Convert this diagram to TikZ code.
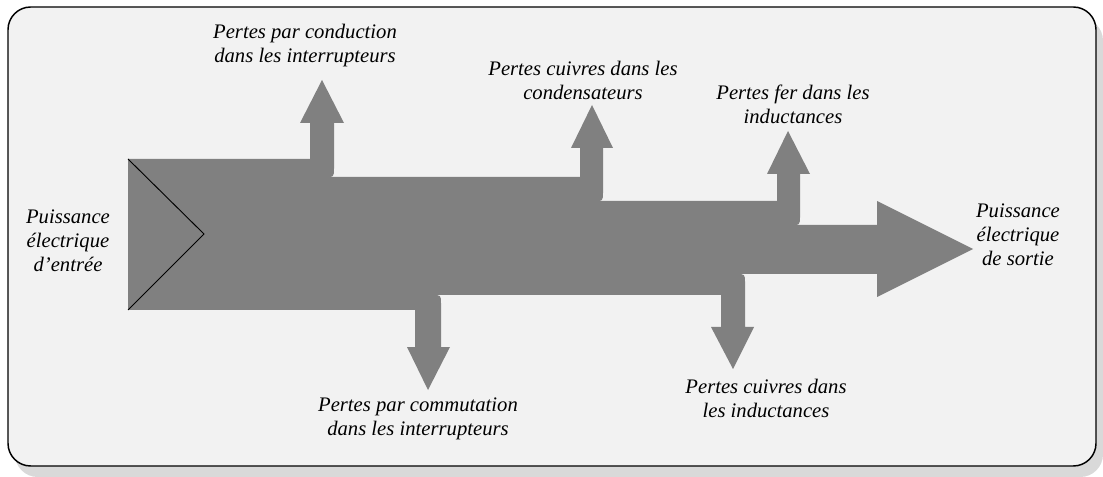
\documentclass[tikz,border=0pt]{standalone}
\usepackage{fontspec}
\setmainfont{Liberation Serif}
\usepackage{xcolor}
\usepackage{tikz}

\definecolor{flowgray}{HTML}{808080}
\definecolor{panelbg}{HTML}{F2F2F2}
\definecolor{shadowgray}{HTML}{D9D9D9}

\begin{document}
\begin{tikzpicture}[
  x=0.75pt, y=-0.75pt,
  lbl/.style={font=\fontsize{15.5}{18}\selectfont\itshape, align=center,
              inner sep=0pt},
  flow/.style={fill=flowgray, draw=none},
  panel/.style={draw=black, line width=1.1pt, fill=panelbg,
                rounded corners=17pt},
  shade/.style={fill=shadowgray, rounded corners=17pt},
  notch/.style={draw=black, line width=0.7pt},
]
\useasboundingbox (0,0) rectangle (1103,477);

% ---- Frame ----
\fill[shade] (15,18) rectangle (1103,477);
\draw[panel] (8,7) rectangle (1096,466);

% ---- Power flow ----
\fill[flow] (128,159) -- (310,159) -- (310,123) -- (300,123) -- (322,80)
  -- (344,123) -- (334,123) -- (334,168) .. controls (334,177) .. (325,177)
  -- (580,177) -- (580,148) -- (571,148) -- (592,105) -- (613,148)
  -- (603,148) -- (603,192) .. controls (603,201) .. (594,201)
  -- (777,201) -- (777,174) -- (767,174) -- (788,131) -- (810,174)
  -- (800,174) -- (800,216) .. controls (800,225) .. (791,225)
  -- (877,225) -- (877,201) -- (973,249) -- (877,297) -- (877,274)
  -- (736,274) .. controls (745,274) .. (745,283)
  -- (745,327) -- (754,327) -- (733,369) -- (711,327) -- (721,327)
  -- (721,295) -- (432,295) .. controls (441,295) .. (441,304)
  -- (441,347) -- (450,347) -- (428,390) -- (407,347) -- (415,347)
  -- (415,310) -- (128,310) -- cycle;

% input notch
\draw[notch] (128,159) -- (204,234) -- (128,310);

% ---- Labels ----
\node[lbl] (pin)   at (68,241)   {Puissance\\électrique\\d’entrée};
\node[lbl] (pout)  at (1018,235) {Puissance\\électrique\\de sortie};
\node[lbl] (cond)  at (305,46)   {Pertes par conduction\\dans les interrupteurs};
\node[lbl] (capa)  at (583,80)   {Pertes cuivres dans les\\condensateurs};
\node[lbl] (fer)   at (793,104)  {Pertes fer dans les\\inductances};
\node[lbl] (comm)  at (418,419)  {Pertes par commutation\\dans les interrupteurs};
\node[lbl] (cuind) at (766,398)  {Pertes cuivres dans\\les inductances};
\end{tikzpicture}
\end{document}
